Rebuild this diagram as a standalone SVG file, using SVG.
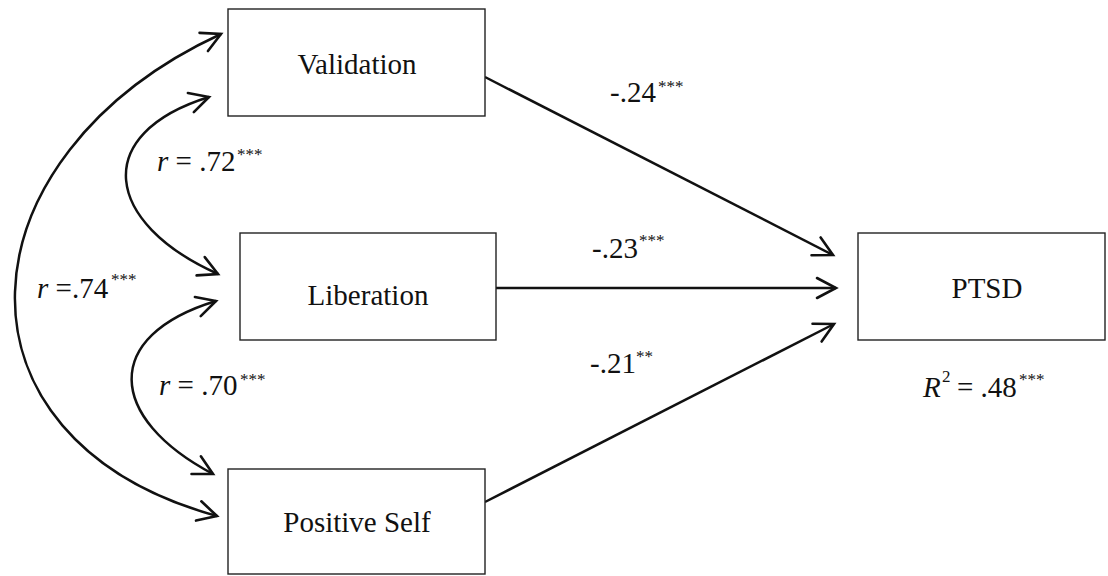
<svg xmlns="http://www.w3.org/2000/svg" width="1108" height="576" viewBox="0 0 1108 576">
  <style>
    .box { fill: #fff; stroke: #222; stroke-width: 1.4; }
    .lbl { font-family: "Liberation Serif", "DejaVu Serif", serif; font-size: 29px; fill: #111; }
    .node { text-anchor: middle; }
    .sup { font-size: 17px; }
    .it { font-style: italic; }
    .edge { fill: none; stroke: #111; stroke-width: 2.5; }
  </style>
  <defs>
    <!-- open chevron arrowhead shared by all connectors -->
    <marker id="head" viewBox="-24 -13 27 26" markerUnits="userSpaceOnUse" markerWidth="27" markerHeight="26" refX="0" refY="0" orient="auto-start-reverse">
      <path d="M -19 -10 L 0 0 L -19 10" fill="none" stroke="#111" stroke-width="2.6" stroke-linecap="round" stroke-linejoin="miter"/>
    </marker>
  </defs>

  <rect width="1108" height="576" fill="#fff"/>

  <!-- Paths and correlations -->
  <g id="connectors">
    <line class="edge" x1="485" y1="77" x2="833" y2="255" marker-end="url(#head)"/>
    <line class="edge" x1="496" y1="288" x2="836" y2="288" marker-end="url(#head)"/>
    <line class="edge" x1="485" y1="502" x2="834" y2="324" marker-end="url(#head)"/>
    <path class="edge" d="M 221 34 C -43 156 -63 439 217 516" marker-start="url(#head)" marker-end="url(#head)"/>
    <path class="edge" d="M 209 97 C 90 134 104 223 218 274" marker-start="url(#head)" marker-end="url(#head)"/>
    <path class="edge" d="M 216 301 C 101 336 107 418 213 474" marker-start="url(#head)" marker-end="url(#head)"/>
  </g>

  <!-- Path coefficients and correlations -->
  <g id="edge-labels" class="lbl">
    <text x="610" y="102">-.24<tspan class="sup" x="658" y="92">***</tspan></text>
    <text x="592" y="258">-.23<tspan class="sup" x="639" y="246">***</tspan></text>
    <text x="590" y="373">-.21<tspan class="sup" x="636" y="362">**</tspan></text>
    <text x="157" y="171"><tspan class="it">r</tspan> = .72<tspan class="sup" x="237" y="160">***</tspan></text>
    <text x="37" y="298"><tspan class="it">r</tspan> =.74<tspan class="sup" x="111" y="285">***</tspan></text>
    <text x="159" y="395"><tspan class="it">r</tspan> = .70<tspan class="sup" x="240" y="385">***</tspan></text>
  </g>

  <g id="validation">
    <rect class="box" x="228" y="9" width="257" height="107"/>
    <text class="lbl node" x="357" y="74">Validation</text>
  </g>
  <g id="liberation">
    <rect class="box" x="240" y="233" width="256" height="107"/>
    <text class="lbl node" x="368" y="305">Liberation</text>
  </g>
  <g id="positive-self">
    <rect class="box" x="228" y="469" width="257" height="105"/>
    <text class="lbl node" x="357" y="532">Positive Self</text>
  </g>
  <g id="ptsd">
    <rect class="box" x="858" y="233" width="247" height="107"/>
    <text class="lbl node" x="987" y="298">PTSD</text>
    <text class="lbl" x="923" y="397"><tspan class="it">R</tspan><tspan class="sup" x="942" y="382">2</tspan><tspan x="957" y="397">= .48</tspan><tspan class="sup" x="1019" y="385">***</tspan></text>
  </g>
</svg>
